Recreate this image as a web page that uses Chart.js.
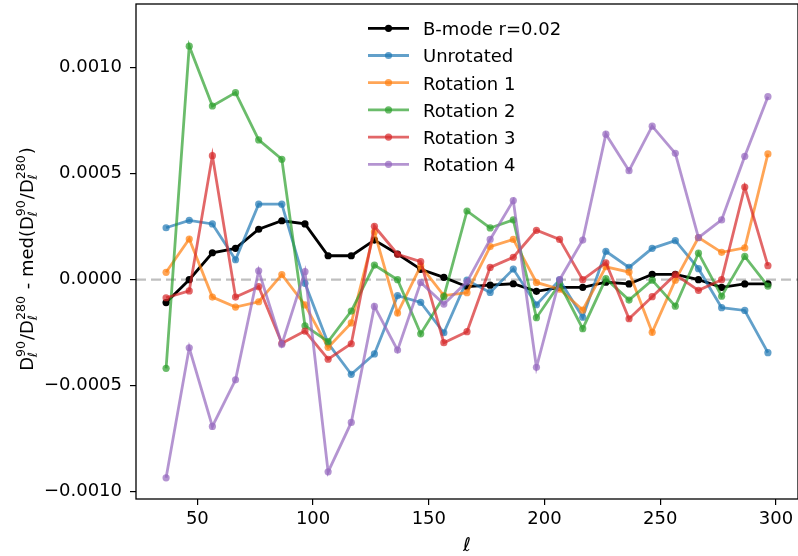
<!DOCTYPE html>
<html>
<head>
<meta charset="utf-8">
<script src="https://cdn.jsdelivr.net/npm/chart.js@4.4.0/dist/chart.umd.min.js"></script>
<style>
  html, body { margin: 0; padding: 0; background: #fff; overflow: hidden; }
  #wrap { width: 802px; height: 556px; }
</style>
</head>
<body>
<div id="wrap"><canvas id="residChart" width="802" height="556"></canvas></div>
<script>
// multipole bin centres
const ell = [36.5, 46.5, 56.5, 66.5, 76.5, 86.5, 96.5, 106.5, 116.5, 126.5, 136.5, 146.5, 156.5, 166.5,
             176.5, 186.5, 196.5, 206.5, 216.5, 226.5, 236.5, 246.5, 256.5, 266.5, 276.5, 286.5, 296.5];

const bmode = [-0.000108, 0.0, 0.000127, 0.000148, 0.000238, 0.000278, 0.000263, 0.000113, 0.000113,
               0.000187, 0.000121, 0.000049, 0.000011, -0.000033, -0.000026, -0.000019, -0.000055, -0.000036,
               -0.000036, -0.000012, -0.00002, 0.000025, 0.000025, 0.0, -0.000036, -0.00002, -0.00002];
const unrotated = [0.000245, 0.00028, 0.000263, 0.000094, 0.000356, 0.000356, -0.000017, -0.0003, -0.000446,
                   -0.00035, -0.000075, -0.000107, -0.00025, -0.000002, -0.00006, 0.00005, -0.000118, -0.000001,
                   -0.000177, 0.000134, 0.000058, 0.000148, 0.000184, 0.000052, -0.000132, -0.000145, -0.000344];
const rotation1 = [0.000035, 0.000192, -0.000082, -0.000129, -0.000104, 0.000024, -0.000119, -0.000319, -0.000204,
                   0.000226, -0.000157, 0.000065, -0.000075, -0.000061, 0.000156, 0.00019, -0.000013, -0.000045,
                   -0.000143, 0.000061, 0.000036, -0.000248, -0.000002, 0.000199, 0.000129, 0.00015, 0.000593];
const rotation2 = [-0.000418, 0.001101, 0.000819, 0.000882, 0.000659, 0.000568, -0.000217, -0.000292, -0.000148,
                   0.000069, 0.0, -0.000255, -0.00008, 0.000324, 0.000244, 0.000282, -0.000179, -0.00002,
                   -0.000231, 0.000005, -0.000096, -0.000002, -0.000125, 0.000125, -0.000078, 0.00011, -0.00003];
const rotation3 = [-0.000085, -0.000053, 0.000585, -0.000082, -0.000033, -0.0003, -0.000242, -0.000375, -0.000302,
                   0.000252, 0.00012, 0.000085, -0.000297, -0.000245, 0.000058, 0.000106, 0.000233, 0.00019,
                   0.0, 0.00008, -0.000184, -0.00008, 0.000024, -0.00005, 0.0, 0.000437, 0.000066];
const rotation4 = [-0.000934, -0.000321, -0.000692, -0.000472, 0.000042, -0.000305, 0.000038, -0.000906, -0.000673,
                   -0.000126, -0.000332, -0.000013, -0.000115, -0.00001, 0.00019, 0.000373, -0.000413, 0.0,
                   0.000187, 0.000686, 0.000514, 0.000724, 0.000596, 0.000198, 0.000282, 0.000582, 0.000863];

const seriesNames = ['B-mode r=0.02', 'Unrotated', 'Rotation 1', 'Rotation 2', 'Rotation 3', 'Rotation 4'];
const seriesValues = [bmode, unrotated, rotation1, rotation2, rotation3, rotation4];
const seriesColors = ['rgba(0,0,0,1)', 'rgba(31,119,180,0.7)', 'rgba(255,127,14,0.7)',
                      'rgba(44,160,44,0.7)', 'rgba(214,39,40,0.7)', 'rgba(148,103,189,0.7)'];

const xTicks = [50, 100, 150, 200, 250, 300];
const yTicks = [-0.001, -0.0005, 0, 0.0005, 0.001];

const FONT = 'DejaVu Sans';

const datasets = seriesValues.map((vals, i) => ({
    label: seriesNames[i],
    data: vals.map((v, k) => ({ x: ell[k], y: v })),
    borderColor: seriesColors[i],
    backgroundColor: seriesColors[i],
    pointBackgroundColor: seriesColors[i],
    pointBorderWidth: 0,
    pointRadius: 3.6,
    borderWidth: 2.8,
    tension: 0,
    order: seriesNames.length - i
}));

// zero line, frame, legend and the y label with sub/superscripts
const decorations = {
    id: 'decorations',
    beforeDatasetsDraw(chart) {
        const { ctx, chartArea: a, scales: { y } } = chart;
        const y0 = y.getPixelForValue(0);
        ctx.save();
        ctx.strokeStyle = 'rgba(128,128,128,0.5)';
        ctx.lineWidth = 2.3;
        ctx.setLineDash([10, 5]);
        ctx.beginPath();
        ctx.moveTo(a.left, y0);
        ctx.lineTo(a.right, y0);
        ctx.stroke();
        ctx.restore();
    },
    afterDraw(chart) {
        const { ctx, chartArea: a } = chart;
        ctx.save();
        ctx.strokeStyle = '#000';
        ctx.lineWidth = 1.3;
        ctx.strokeRect(a.left, a.top, a.right - a.left, a.bottom - a.top);

        // legend
        const lx0 = 368, lx1 = 409, tx = 423;
        chart.data.datasets.forEach((ds, i) => {
            const ry = 28.3 + i * 27.2;
            ctx.strokeStyle = ds.borderColor;
            ctx.lineWidth = ds.borderWidth;
            ctx.beginPath();
            ctx.moveTo(lx0, ry);
            ctx.lineTo(lx1, ry);
            ctx.stroke();
            ctx.fillStyle = ds.borderColor;
            ctx.beginPath();
            ctx.arc((lx0 + lx1) / 2, ry, ds.pointRadius, 0, Math.PI * 2);
            ctx.fill();
            ctx.fillStyle = '#000';
            ctx.font = '18px "' + FONT + '"';
            ctx.textBaseline = 'alphabetic';
            ctx.textAlign = 'left';
            ctx.fillText(ds.label, tx, ry + 6.8);
        });

        // x label
        ctx.font = 'italic 19px "' + FONT + '"';
        ctx.textAlign = 'center';
        ctx.fillText('ℓ', (a.left + 798) / 2, 551);

        // y label
        const base = 18, small = 12.6;
        const parts = [
            ['D'], ['ℓ', '90'], ['/D'], ['ℓ', '280'], [' - med(D'], ['ℓ', '90'], ['/D'], ['ℓ', '280'], [')']
        ];
        const fMain = base + 'px "' + FONT + '"';
        const fSmall = small + 'px "' + FONT + '"';
        const fSub = 'italic ' + small + 'px "' + FONT + '"';
        const widths = parts.map(p => {
            if (p.length === 1) { ctx.font = fMain; return ctx.measureText(p[0]).width; }
            ctx.font = fSub; const w1 = ctx.measureText(p[0]).width;
            ctx.font = fSmall; const w2 = ctx.measureText(p[1]).width;
            return Math.max(w1, w2) + 1;
        });
        const total = widths.reduce((s, w) => s + w, 0);
        ctx.translate(0, 259);
        ctx.rotate(-Math.PI / 2);
        ctx.textAlign = 'left';
        let px = -total / 2;
        const baseY = 33;
        parts.forEach((p, i) => {
            if (p.length === 1) {
                ctx.font = fMain;
                ctx.fillText(p[0], px, baseY);
            } else {
                ctx.font = fSub;
                ctx.fillText(p[0], px, baseY + 3.5);
                ctx.font = fSmall;
                ctx.fillText(p[1], px, baseY - 8.5);
            }
            px += widths[i];
        });
        ctx.restore();
    }
};

new Chart(document.getElementById('residChart').getContext('2d'), {
    type: 'line',
    data: { datasets: datasets },
    options: {
        responsive: false,
        animation: false,
        devicePixelRatio: 1,
        layout: { padding: { top: 4, right: 1.8, left: 0, bottom: 0 } },
        plugins: {
            legend: { display: false },
            tooltip: { enabled: false }
        },
        scales: {
            x: {
                type: 'linear',
                min: 23.5,
                max: 309.5,
                afterBuildTicks: s => { s.ticks = xTicks.map(v => ({ value: v })); },
                afterFit: s => { s.height = 57; s.paddingLeft = 0; s.paddingRight = 0; },
                border: { display: false },
                grid: { drawOnChartArea: false, drawTicks: true, tickLength: 6, color: '#000', lineWidth: 1.2 },
                ticks: { color: '#000', padding: 4, maxRotation: 0, font: { family: FONT, size: 18 } }
            },
            y: {
                type: 'linear',
                min: -0.001034,
                max: 0.0013,
                afterBuildTicks: s => { s.ticks = yTicks.map(v => ({ value: v })); },
                afterFit: s => { s.width = 136; s.paddingTop = 0; s.paddingBottom = 0; },
                border: { display: false },
                grid: { drawOnChartArea: false, drawTicks: true, tickLength: 6, color: '#000', lineWidth: 1.2 },
                ticks: {
                    color: '#000', padding: 8, font: { family: FONT, size: 18 },
                    callback: v => v.toFixed(4).replace('-', '\u2212')
                }
            }
        }
    },
    plugins: [decorations]
});
</script>
</body>
</html>
